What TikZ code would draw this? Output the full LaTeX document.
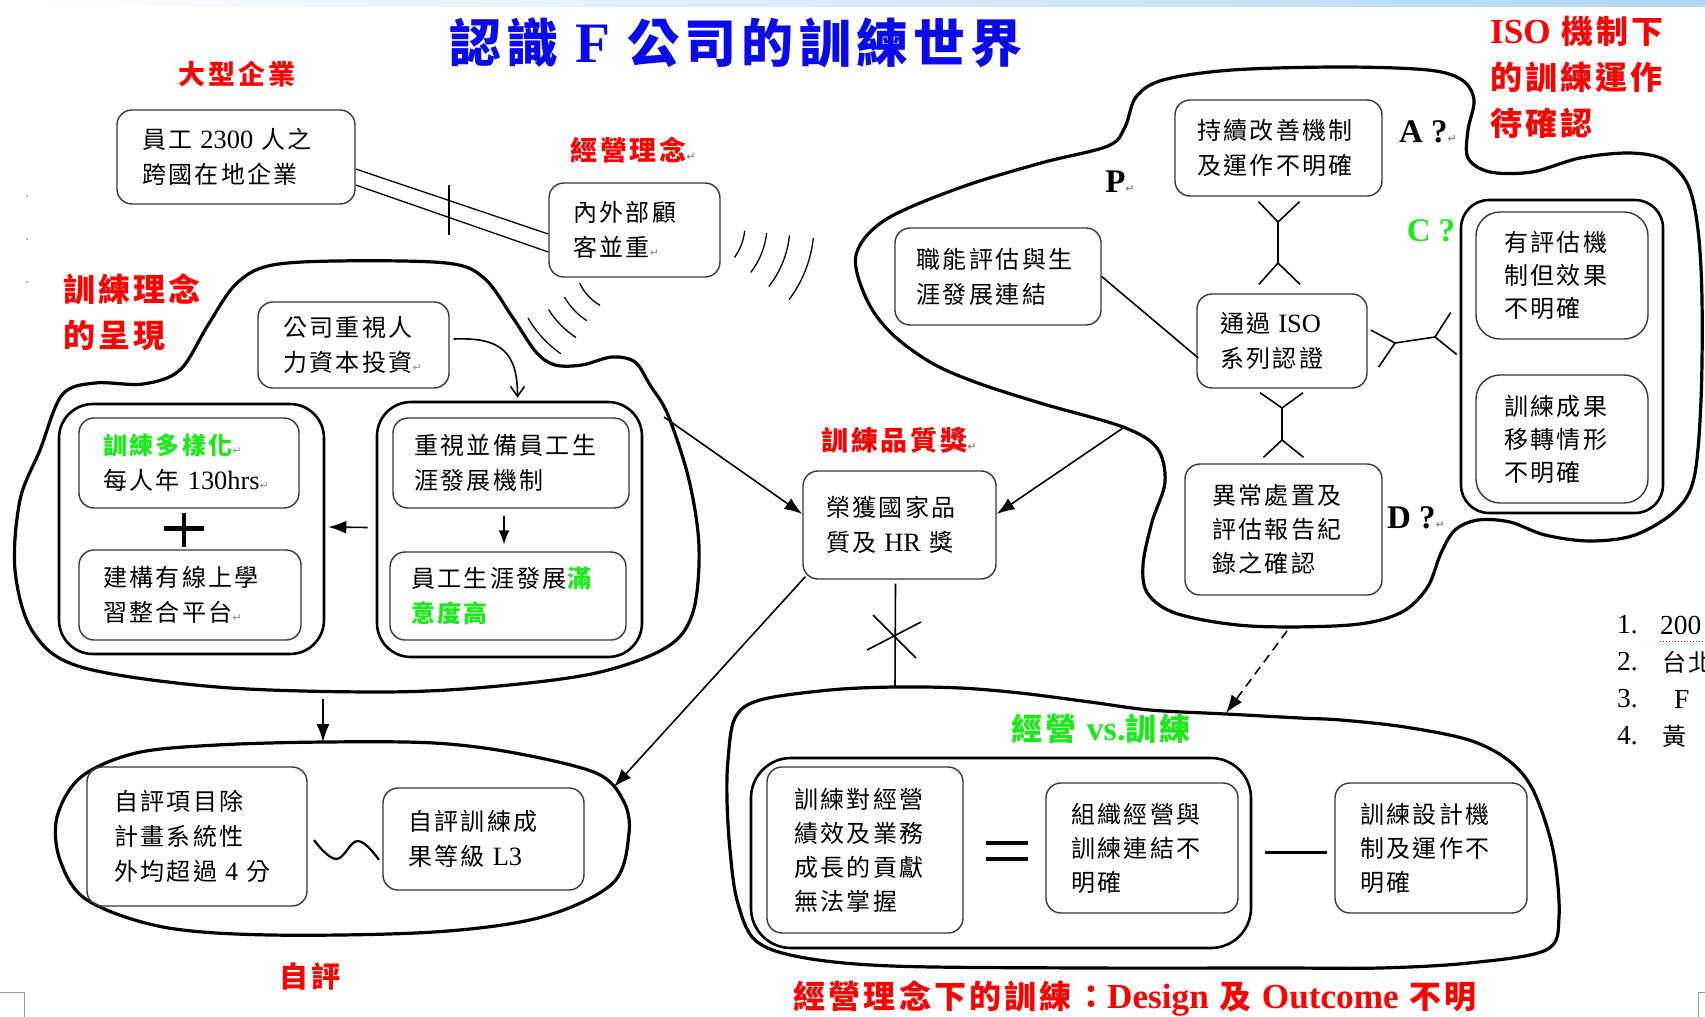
\documentclass[tikz,border=0pt]{standalone}
\usepackage{fontspec}
\setmainfont{Noto Sans CJK TC}[LetterSpace=10]
\newfontfamily\latn{Liberation Serif}[Scale=1.1]
\newfontfamily\symf{DejaVu Sans}
\usetikzlibrary{arrows.meta,calc}
\definecolor{ired}{RGB}{255,0,0}
\definecolor{igreen}{RGB}{25,235,25}
\definecolor{iblue}{RGB}{10,10,235}
\definecolor{ibar}{RGB}{178,214,245}
\newcommand\fsz[2]{\fontsize{#1pt}{#2pt}\selectfont}
\newcommand\ret{{\color{black!45}\symf\fontsize{11pt}{11pt}\selectfont ↵}}
\tikzset{
  bx/.style={draw=black!78, line width=1.4pt, rounded corners=15pt, inner xsep=0pt, inner ysep=0pt, align=left, font=\fsz{24}{35}},
  cont/.style={draw=black, line width=2.6pt, rounded corners=34pt, inner sep=0pt},
  blob/.style={draw=black, line width=3.2pt, line join=round},
  conn/.style={draw=black, line width=1.6pt},
  arr/.style={conn, -{Latex[length=18pt,width=13pt]}},
  lbl/.style={text=ired, font=\bfseries\fsz{27}{34}, inner sep=0pt},
  qm/.style={font=\latn\bfseries\fsz{30}{34}, inner sep=0pt},
  lst/.style={font=\latn\fsz{25}{28}, inner sep=0pt, anchor=west},
  wav/.style={draw=black, line width=1.3pt},
}
\begin{document}
\begin{tikzpicture}[x=1pt,y=-1pt]
\useasboundingbox (0,0) rectangle (1705,1017);
\fill[white] (0,0) rectangle (1705,1017);
\shade[left color=white, right color=ibar] (0,0) rectangle (1705,6);
% page marks
\fill[black!45] (27,196) circle (1pt);
\fill[black!45] (27,239) circle (1pt);
\fill[black!45] (27,282) circle (1pt);
\draw[black!40, line width=1pt] (0,992) -- (24,992) -- (24,1017);
\draw[black!40, line width=1pt] (1705,992) -- (1698,992) -- (1698,1017);

% ---------- blobs ----------
\draw[blob] plot[smooth cycle, tension=0.55] coordinates {
 (40,450) (62,395) (95,383) (143,384) (180,370) (208,325) (235,285) (268,266) (335,261)
 (446,263) (484,278) (513,318) (536,352) (555,365) (582,365) (612,357) (635,362) (650,385)
 (668,415) (689,480) (699,547) (693,612) (667,647) (596,673) (488,687) (379,692) (217,687)
 (81,667) (33,632) (15,570) (20,500)};
\draw[blob] plot[smooth cycle, tension=0.55] coordinates {
 (325,742) (217,745) (136,753) (81,777) (57,817) (60,860) (87,900) (163,927) (271,935)
 (434,932) (542,917) (613,883) (629,833) (623,800) (596,773) (515,753) (434,743)};
\draw[blob] plot[smooth cycle, tension=0.55] coordinates {
 (856,255) (866,298) (890,332) (930,362) (975,382) (1040,403) (1123,427) (1157,448)
 (1165,482) (1152,522) (1143,565) (1148,594) (1178,614) (1250,626) (1350,625) (1400,613)
 (1427,588) (1441,553) (1455,530) (1478,520) (1510,522) (1545,535) (1590,541) (1635,535)
 (1675,511) (1694,478) (1701,400) (1702,300) (1698,230) (1688,185) (1665,160) (1630,153)
 (1580,158) (1532,172) (1490,172) (1468,158) (1468,130) (1474,100) (1462,80) (1428,70)
 (1341,67) (1232,70) (1163,80) (1136,97) (1125,127) (1108,146) (1041,163) (959,188) (885,220)};
\draw[blob] plot[smooth cycle, tension=0.55] coordinates {
 (728,760) (735,718) (760,700) (830,690) (895,687) (960,688) (1020,693) (1090,702)
 (1150,710) (1226,714) (1300,718) (1341,720) (1405,727) (1469,740) (1508,760) (1533,790)
 (1553,850) (1559,917) (1546,950) (1469,963) (1380,968) (1277,968) (1085,968) (892,966)
 (800,957) (755,940) (737,900) (730,850) (727,800)};

% blob anchor coordinates
\coordinate (a1) at (664,417);
\coordinate (lbot) at (323,699);
\coordinate (stop) at (323,742);
\coordinate (se) at (614,787);
\coordinate (a2) at (1123,428);
\coordinate (d1) at (1287,631);
\coordinate (d2) at (1226,713);
\coordinate (kt) at (895,688);

% ---------- labels ----------
\node[font=\bfseries\fsz{52}{56}, text=iblue, inner sep=0pt] (title) at (736,43) {認識 {\latn F} 公司的訓練世界};
\node[lbl] (lbig) at (237,74) {大型企業};
\node[lbl] (lmgmt) at (633,150) {經營理念\ret};
\node[lbl, font=\bfseries\fsz{32}{46}, align=left, anchor=west] (ltrain) at (63,312) {訓練理念\\的呈現};
\node[lbl] (lqual) at (899,440) {訓練品質獎\ret};
\node[lbl, font=\bfseries\fsz{29}{34}] (lself) at (310,976) {自評};
\node[lbl, font=\bfseries\fsz{32}{36}] (lbottom) at (1135,998) {經營理念下的訓練：{\latn Design} 及 {\latn Outcome} 不明};
\node[lbl, text=igreen, font=\bfseries\fsz{31}{36}] (lvs) at (1101,729) {經營 {\latn vs.}訓練};
\node[lbl, font=\bfseries\fsz{32}{46}, align=left, anchor=west] (liso) at (1490,77) {{\latn ISO} 機制下\\的訓練運作\\待確認};
\node[qm] (P) at (1120,182) {P\ret};
\node[qm] (A) at (1428,132) {A\hspace{8pt}?\ret};
\node[qm, text=igreen] (C) at (1431,231) {C\hspace{8pt}?};
\node[qm] (D) at (1416,518) {D\hspace{8pt}?\ret};
\node[lst] (n1) at (1617,625) {1.};
\node[lst] (t1) at (1660,625) {200};
\node[lst] (n2) at (1617,662) {2.};
\node[lst, font=\fsz{24}{28}] (t2) at (1662,662) {台北};
\node[lst] (n3) at (1617,699) {3.};
\node[lst] (t3) at (1674,699) {F};
\node[lst] (n4) at (1617,736) {4.};
\node[lst, font=\fsz{24}{28}] (t4) at (1662,736) {黃};
\draw[magenta, line width=1pt, dotted] (1660,641) -- (1705,641);

% ---------- boxes ----------
\node[bx, minimum width=238pt, minimum height=94pt, text width=188pt] (B1) at (236,157) {員工 {\latn 2300} 人之\\跨國在地企業};
\node[bx, minimum width=171pt, minimum height=94pt, text width=123pt] (B2) at (634.5,230) {內外部顧\\客並重\ret};
\node[bx, minimum width=191pt, minimum height=86pt, text width=141pt] (B3) at (353.5,345) {公司重視人\\力資本投資\ret};
\node[cont, minimum width=265pt, minimum height=250pt] (L1) at (191.5,529) {};
\node[bx, minimum width=220pt, minimum height=90pt, text width=172pt] (B4) at (189,463) {{\color{igreen}\bfseries 訓練多樣化}\ret\\每人年 {\latn 130hrs}\ret};
\node[bx, minimum width=222pt, minimum height=90pt, text width=174pt] (B5) at (190,595) {建構有線上學\\習整合平台\ret};
\node[cont, minimum width=265pt, minimum height=255pt] (R1) at (509.5,529.5) {};
\node[bx, minimum width=236pt, minimum height=90pt, text width=194pt] (B6) at (511,463) {重視並備員工生\\涯發展機制};
\node[bx, minimum width=236pt, minimum height=88pt, text width=194pt] (B7) at (508,596) {員工生涯發展{\color{igreen}\bfseries 滿}\\{\color{igreen}\bfseries 意度高}};
\node[bx, minimum width=193pt, minimum height=108pt, text width=147pt] (B8) at (899.5,525) {榮獲國家品\\質及 {\latn HR} 獎};
\node[bx, minimum width=220pt, minimum height=139pt, text width=166pt] (B9) at (197,836.5) {自評項目除\\計畫系統性\\外均超過 {\latn 4} 分};
\node[bx, minimum width=201pt, minimum height=102pt, text width=151pt] (B10) at (483.5,839) {自評訓練成\\果等級 {\latn L3}};
\node[cont, minimum width=500pt, minimum height=190pt, rounded corners=40pt] (K1) at (1001,853) {};
\node[bx, minimum width=196pt, minimum height=166pt, text width=142pt, font=\fsz{24}{34}] (B11) at (865,850) {訓練對經營\\績效及業務\\成長的貢獻\\無法掌握};
\node[bx, minimum width=192pt, minimum height=130pt, text width=142pt, font=\fsz{24}{34}] (B12) at (1142,848) {組織經營與\\訓練連結不\\明確};
\node[bx, minimum width=192pt, minimum height=130pt, text width=142pt, font=\fsz{24}{34}] (B13) at (1431,848) {訓練設計機\\制及運作不\\明確};
\node[bx, minimum width=207pt, minimum height=96pt, text width=163pt] (B14) at (1278.5,148) {持續改善機制\\及運作不明確};
\node[bx, minimum width=206pt, minimum height=97pt, text width=163pt] (B15) at (998,276.5) {職能評估與生\\涯發展連結};
\node[bx, minimum width=170pt, minimum height=94pt, text width=124pt] (B16) at (1282,341) {通過 {\latn ISO}\\系列認證};
\node[bx, minimum width=197pt, minimum height=131pt, text width=143pt, font=\fsz{24}{34}] (B17) at (1283.5,529.5) {異常處置及\\評估報告紀\\錄之確認};
\node[cont, minimum width=202pt, minimum height=313pt, rounded corners=28pt] (C1) at (1562,356.5) {};
\node[bx, minimum width=172pt, minimum height=127pt, text width=116pt, rounded corners=24pt, font=\fsz{24}{33}] (B18) at (1562,275.5) {有評估機\\制但效果\\不明確};
\node[bx, minimum width=172pt, minimum height=128pt, text width=116pt, rounded corners=24pt, font=\fsz{24}{33}] (B19) at (1562,439) {訓練成果\\移轉情形\\不明確};

% ---------- connectors ----------
\draw[conn, line width=1.3pt] ($(B1.east)+(0,12)$) -- ($(B2.west)+(0,4)$);
\draw[conn, line width=1.3pt] ($(B1.east)+(0,28)$) -- ($(B2.west)+(0,22)$);
\coordinate (tk1) at (449,185);
\coordinate (tk2) at (449,235);
\draw[conn, line width=1.3pt] (tk1) -- (tk2);
% waves
\foreach \r/\e in {55/36, 77/38, 100/38, 124/37}
  \draw[wav] ([shift={(6:\r)}]690,225) arc[start angle=6, end angle=\e, radius=\r];
\foreach \r/\s/\e in {50/155/120, 70/150/123, 90/148/123, 112/150/125}
  \draw[wav] ([shift={(\s:\r)}]625,262) arc[start angle=\s, end angle=\e, radius=\r];
% left group
\draw[conn, -{Straight Barb[length=10pt,width=14pt]}] ($(B3.east)+(4,-6)$) .. controls +(48,-2) and +(0,-45) .. ($(R1.north)+(8,-3)$);
\draw[arr] ($(R1.west)+(-8,-2)$) -- ($(L1.east)+(3,-2)$);
\draw[conn, -{Latex[length=14pt,width=11pt]}] ($(B6.south)+(-7,7)$) -- ($(B7.north)+(-4,-7)$);
\draw[line width=4.5pt] ($(B4.south)+(-25,20)$) -- ($(B4.south)+(15,20)$);
\draw[line width=4.5pt] ($(B4.south)+(-5,4)$) -- ($(B4.south)+(-5,38)$);
\draw[arr] (lbot) -- (stop);
% self evaluation wave
\draw[wav, line width=2.2pt] plot[smooth, tension=0.7] coordinates {(314,840) (336,859) (358,841) (379,860)};
% award arrows
\draw[arr] (a1) -- ($(B8.west)+(0,-11)$);
\draw[arr] (a2) -- ($(B8.east)+(0,-11)$);
\draw[arr] ($(B8.south west)+(3,-3)$) -- (se);
\draw[conn] ($(B8.south)+(-4,4)$) -- (kt);
\draw[conn] (873,615) -- (916,658);
\draw[conn] (921,622) -- (867,650);
\draw[arr, dash pattern=on 9pt off 6pt] (d1) -- (d2);
% management group
\draw[line width=3.5pt] ($(B11.east)+(22,-7)$) -- ($(B11.east)+(64,-7)$);
\draw[line width=3.5pt] ($(B11.east)+(22,9)$) -- ($(B11.east)+(64,9)$);
\draw[line width=3pt] ($(B12.east)+(26,4)$) -- ($(B13.west)+(-7,4)$);
% ISO forks
\coordinate (f1) at (1278,222);
\coordinate (f2) at (1278,263);
\draw[conn] ($(B14.south)+(-20,5)$) -- (f1) -- ($(B14.south)+(21,5)$);
\draw[conn] (f1) -- (f2);
\draw[conn] ($(B16.north)+(-23,-9)$) -- (f2) -- ($(B16.north)+(18,-9)$);
\coordinate (f3) at (1282,408);
\coordinate (f4) at (1282,440);
\draw[conn] ($(B16.south)+(-22,4)$) -- (f3) -- ($(B16.south)+(21,4)$);
\draw[conn] (f3) -- (f4);
\draw[conn] ($(B17.north)+(-20,-6)$) -- (f4) -- ($(B17.north)+(20,-6)$);
\coordinate (f5) at (1395,343);
\coordinate (f6) at (1435,337);
\draw[conn] ($(B16.east)+(3,-11)$) -- (f5) -- ($(B16.east)+(11,26)$);
\draw[conn] (f5) -- (f6);
\draw[conn] ($(C1.west)+(-9,-44)$) -- (f6) -- ($(C1.west)+(-3,-2)$);
\draw[conn] (B15.east) -- ($(B16.west)+(2,17)$);
\end{tikzpicture}
\end{document}
